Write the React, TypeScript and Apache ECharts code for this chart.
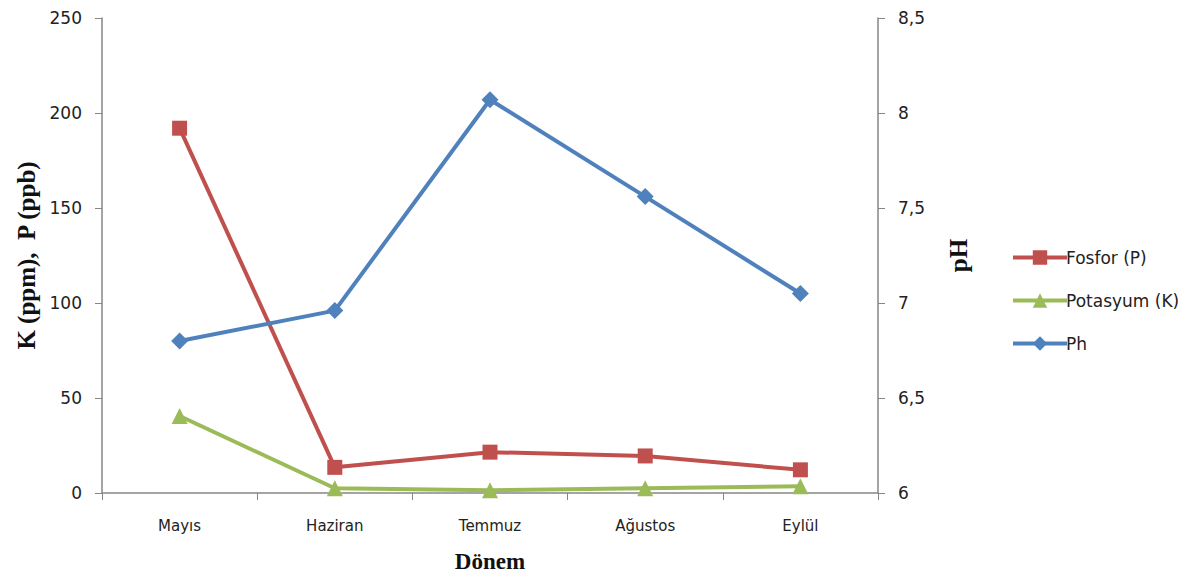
import React, { useEffect, useRef } from "react";
import * as echarts from "echarts";

const categories = ["Mayıs", "Haziran", "Temmuz", "Ağustos", "Eylül"];
const fosfor = [192, 13.5, 21.5, 19.5, 12.2];
const potasyum = [40.5, 2.5, 1.5, 2.5, 3.5];
const ph = [6.8, 6.96, 8.07, 7.56, 7.05];

const leftTicks = { min: 0, max: 250, interval: 50 };
const rightTicks = { min: 6, max: 8.5, interval: 0.5 };

const axisColor = "#868686";
const labelFont = "DejaVu Sans";

export default function App() {
  const ref = useRef<HTMLDivElement>(null);
  useEffect(() => {
    if (!ref.current) return;
    const chart = echarts.init(ref.current, undefined, { renderer: "svg" });
    chart.setOption({
      animation: false,
      backgroundColor: "#ffffff",
      grid: { left: 102, right: 326, top: 18, bottom: 85 },
      legend: {
        orient: "vertical",
        left: 1006,
        top: 244,
        itemWidth: 54,
        itemHeight: 18,
        itemGap: 26,
        lineStyle: { width: 4 },
        textStyle: { fontFamily: labelFont, fontSize: 17, color: "#222", padding: [0, 0, 0, -6] },
        data: ["Fosfor (P)", "Potasyum (K)", "Ph"],
      },
      xAxis: {
        type: "category",
        data: categories,
        boundaryGap: true,
        axisLine: { lineStyle: { color: axisColor, width: 1.5 } },
        axisTick: { show: true, length: 7, lineStyle: { color: axisColor } },
        axisLabel: { fontFamily: labelFont, fontSize: 15, color: "#222", margin: 25 },
        name: "Dönem",
        nameLocation: "middle",
        nameGap: 57,
        nameTextStyle: { fontFamily: "Liberation Serif", fontWeight: "bold", fontSize: 23, color: "#111" },
        splitLine: { show: false },
      },
      yAxis: [
        {
          type: "value",
          ...leftTicks,
          axisLine: { show: true, lineStyle: { color: axisColor, width: 1.5 } },
          axisTick: { show: true, length: 7, lineStyle: { color: axisColor } },
          axisLabel: { fontFamily: labelFont, fontSize: 17, color: "#222", margin: 20 },
          splitLine: { show: false },
          name: "K (ppm),  P (ppb)",
          nameLocation: "middle",
          nameRotate: 90,
          nameGap: 60,
          nameTextStyle: { fontFamily: "Liberation Serif", fontWeight: "bold", fontSize: 25, color: "#111" },
        },
        {
          type: "value",
          ...rightTicks,
          position: "right",
          axisLine: { show: true, lineStyle: { color: axisColor, width: 1.5 } },
          axisTick: { show: true, length: 7, lineStyle: { color: axisColor } },
          axisLabel: {
            fontFamily: labelFont,
            fontSize: 17,
            color: "#222",
            margin: 20,
            formatter: (v: number) => String(v).replace(".", ","),
          },
          splitLine: { show: false },
          name: "pH",
          nameLocation: "middle",
          nameRotate: 90,
          nameGap: 68,
          nameTextStyle: { fontFamily: "Liberation Serif", fontWeight: "bold", fontSize: 25, color: "#111" },
        },
      ],
      series: [
        {
          name: "Fosfor (P)",
          type: "line",
          yAxisIndex: 0,
          data: fosfor,
          symbol: "rect",
          symbolSize: 15,
          lineStyle: { width: 4, color: "#C0504D" },
          itemStyle: { color: "#C0504D" },
        },
        {
          name: "Potasyum (K)",
          type: "line",
          yAxisIndex: 0,
          data: potasyum,
          symbol: "triangle",
          symbolSize: 16,
          lineStyle: { width: 4, color: "#9BBB59" },
          itemStyle: { color: "#9BBB59" },
        },
        {
          name: "Ph",
          type: "line",
          yAxisIndex: 1,
          data: ph,
          symbol: "diamond",
          symbolSize: 17,
          lineStyle: { width: 4, color: "#4F81BD" },
          itemStyle: { color: "#4F81BD" },
        },
      ],
    });
    return () => chart.dispose();
  }, []);
  return <div ref={ref} style={{ width: 1204, height: 578, margin: -8 }} />;
}
